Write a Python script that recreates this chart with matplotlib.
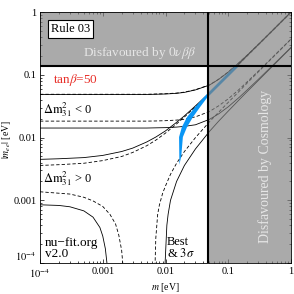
import numpy as np
import matplotlib
matplotlib.use('Agg')
import matplotlib.pyplot as plt

plt.rcParams['font.family'] = ['Liberation Serif', 'DejaVu Serif']
plt.rcParams['mathtext.fontset'] = 'stix'

# limits
m_cosmo = 0.047      # lightest mass bound (vertical line)
mee_bound = 0.138    # 0vbb bound (horizontal line)

# common lightest-mass grid for the smooth curves
m_grid = [1e-4, 2e-4, 5e-4, 1e-3, 2e-3, 3e-3, 5e-3, 7e-3, 0.01, 0.015, 0.02,
          0.03, 0.05, 0.07, 0.1, 0.15, 0.2, 0.3, 0.5, 0.7, 1.0]

# inverted ordering, upper / lower edges (dashed = best fit, solid = 3 sigma)
io_up_best = [0.049, 0.049, 0.049, 0.049, 0.049, 0.049, 0.049, 0.0495, 0.050, 0.0512, 0.053,
              0.058, 0.069, 0.085, 0.111, 0.158, 0.206, 0.304, 0.502, 0.702, 1.0]
io_up_3s = [0.0485, 0.0485, 0.0485, 0.0485, 0.0485, 0.0485, 0.0486, 0.049, 0.0495, 0.0507, 0.0525,
            0.0575, 0.0685, 0.0845, 0.1105, 0.1575, 0.2055, 0.3035, 0.5015, 0.7015, 1.0]
io_lo_best = [0.0183, 0.0183, 0.0183, 0.0183, 0.0183, 0.0183, 0.0183, 0.0184, 0.0186, 0.0190, 0.0196,
              0.0214, 0.026, 0.032, 0.0415, 0.059, 0.0775, 0.114, 0.188, 0.262, 0.373]
io_lo_3s = [0.0142, 0.0142, 0.0142, 0.0142, 0.0142, 0.0142, 0.0142, 0.0143, 0.0144, 0.0147, 0.0151,
            0.0160, 0.0195, 0.0238, 0.031, 0.044, 0.0575, 0.0845, 0.139, 0.193, 0.274]

# normal ordering, upper edges
no_up_best = [0.0036, 0.0037, 0.0039, 0.0043, 0.0050, 0.0058, 0.0074, 0.0091, 0.0118, 0.0165, 0.0213,
              0.031, 0.0505, 0.0705, 0.1004, 0.150, 0.200, 0.300, 0.500, 0.700, 1.0]
no_up_3s = [0.0045, 0.0046, 0.0048, 0.0052, 0.0060, 0.0068, 0.0085, 0.0102, 0.0128, 0.0175, 0.0222,
            0.032, 0.0515, 0.0712, 0.101, 0.151, 0.201, 0.301, 0.501, 0.701, 1.0]

# normal ordering, lower edges: left branch (before cancellation) and right branch
no_lo_best_left_m = [1e-4, 3e-4, 5e-4, 7e-4, 1e-3, 1.3e-3, 1.6e-3, 1.8e-3, 2e-3, 2.1e-3]
no_lo_best_left = [0.00137, 0.00126, 0.00112, 0.00098, 0.00080, 0.00060, 0.00042, 0.00028, 0.00016, 0.00009]
no_lo_3s_left_m = [1e-4, 2e-4, 3e-4, 5e-4, 7e-4, 9e-4, 1e-3, 1.1e-3, 1.18e-3]
no_lo_3s_left = [0.00085, 0.00083, 0.00079, 0.00068, 0.00054, 0.00037, 0.00027, 0.00017, 0.00009]

no_lo_best_right_m = [0.0068, 0.007, 0.0075, 0.008, 0.009, 0.01, 0.012, 0.015, 0.02, 0.03, 0.05,
                      0.07, 0.1, 0.15, 0.2, 0.3, 0.5, 0.7, 1.0]
no_lo_best_right = [0.00009, 0.00025, 0.0006, 0.00085, 0.0013, 0.0017, 0.0026, 0.0039, 0.0060, 0.0100, 0.0178,
                    0.0253, 0.0365, 0.055, 0.074, 0.111, 0.185, 0.259, 0.37]
no_lo_3s_right_m = [0.0098, 0.0105, 0.011, 0.012, 0.015, 0.02, 0.03, 0.05, 0.07, 0.1, 0.15,
                    0.2, 0.3, 0.5, 0.7, 1.0]
no_lo_3s_right = [0.00009, 0.0004, 0.0006, 0.0010, 0.0020, 0.0036, 0.0066, 0.0125, 0.0182, 0.0265, 0.0403,
                  0.054, 0.081, 0.135, 0.189, 0.27]

# tan(beta)=50 band: left/upper edge going up, right/lower edge coming back
band_left_m = [0.0166, 0.0166, 0.01643, 0.0182, 0.0220, 0.0295, 0.0395, 0.135]
band_left_mee = [0.0037, 0.00438, 0.0102, 0.0147, 0.0212, 0.0306, 0.0426, 0.146]
band_right_m = [0.145, 0.0455, 0.0355, 0.0273, 0.0220, 0.0189, 0.0178]
band_right_mee = [0.135, 0.0426, 0.0306, 0.0212, 0.0147, 0.0102, 0.0050]

fig = plt.figure(figsize=(2.94, 2.94), dpi=100)
ax = fig.add_axes([0.136, 0.105, 0.854, 0.854])
ax.set_xscale('log')
ax.set_yscale('log')
ax.set_xlim(1e-4, 1)
ax.set_ylim(1e-4, 1)

lw = 0.6
dash = dict(color='black', lw=lw, ls=(0, (4, 2.5)))
solid = dict(color='black', lw=lw, ls='-')

ax.plot(m_grid, io_up_3s, **solid)
ax.plot(m_grid, io_up_best, **dash)
ax.plot(m_grid, io_lo_3s, **solid)
ax.plot(m_grid, io_lo_best, **dash)
ax.plot(m_grid, no_up_3s, **solid)
ax.plot(m_grid, no_up_best, **dash)
ax.plot(no_lo_3s_left_m, no_lo_3s_left, **solid)
ax.plot(no_lo_best_left_m, no_lo_best_left, **dash)
ax.plot(no_lo_3s_right_m, no_lo_3s_right, **solid)
ax.plot(no_lo_best_right_m, no_lo_best_right, **dash)

ax.fill(band_left_m + band_right_m, band_left_mee + band_right_mee,
        color='#0a96f5', lw=0, zorder=2.5)

# disfavoured regions, semi-transparent so curves show through
shade = dict(color='#808080', alpha=0.67, lw=0, zorder=3)
ax.fill_between([1e-4, 1], mee_bound, 1, **shade)
ax.fill_between([m_cosmo, 1], 1e-4, mee_bound, **shade)
ax.axhline(mee_bound, color='black', lw=1.5, zorder=4)
ax.axvline(m_cosmo, color='black', lw=1.5, zorder=4)

ax.text(0.1215, 0.932, 'Rule 03', transform=ax.transAxes, fontsize=9,
        ha='center', va='center', zorder=6,
        bbox=dict(boxstyle='square,pad=0.22', fc='white', ec='black', lw=0.8))
ax.text(0.398, 0.837, r'Disfavoured by $0\nu\beta\beta$', transform=ax.transAxes,
        fontsize=9.5, color='#e6e6e6', ha='center', va='center', zorder=6)
ax.text(0.896, 0.384, 'Disfavoured by Cosmology', transform=ax.transAxes,
        fontsize=10, color='#e6e6e6', rotation=90, ha='center', va='center', zorder=6)
ax.text(0.052, 0.729, r'tan$\beta$=50', transform=ax.transAxes, fontsize=9.5,
        color='#e8302a', ha='left', va='center', zorder=6)
ax.text(0.012, 0.61, r'$\Delta\mathrm{m}^2_{31}$ < 0', transform=ax.transAxes,
        fontsize=9, ha='left', va='center', zorder=6)
ax.text(0.012, 0.335, r'$\Delta\mathrm{m}^2_{31}$ > 0', transform=ax.transAxes,
        fontsize=9, ha='left', va='center', zorder=6)
ax.text(0.02, 0.014, 'nu\u2212fit.org\nv2.0', transform=ax.transAxes, fontsize=9.5,
        ha='left', va='bottom', linespacing=0.9, zorder=6)
ax.text(0.506, 0.014, 'Best\n& $3\\sigma$', transform=ax.transAxes, fontsize=9,
        ha='left', va='bottom', linespacing=0.9, zorder=6)

ax.set_xticks([1e-4, 1e-3, 1e-2, 1e-1, 1])
ax.set_xticklabels([r'$10^{-4}$', '0.001', '0.01', '0.1', '1'])
ax.set_yticks([1e-4, 1e-3, 1e-2, 1e-1, 1])
ax.set_yticklabels([r'$10^{-4}$', '0.001', '0.01', '0.1', '1'])
ax.tick_params(which='both', direction='in', top=True, right=True, labelsize=7.5, width=0.5)
ax.tick_params(which='major', length=3, pad=2.5)
ax.tick_params(which='minor', length=1.5)
ax.get_yticklabels()[0].set_va('bottom')
for s in ax.spines.values():
    s.set_linewidth(0.6)
    s.set_zorder(5)

ax.set_xlabel(r'$m$ [eV]', fontsize=7)
ax.set_ylabel(r'$|m_{ee}|$ [eV]', fontsize=7)
ax.xaxis.set_label_coords(0.5, -0.07)
ax.yaxis.set_label_coords(-0.108, 0.494)

fig.savefig('out.png', dpi=100)
